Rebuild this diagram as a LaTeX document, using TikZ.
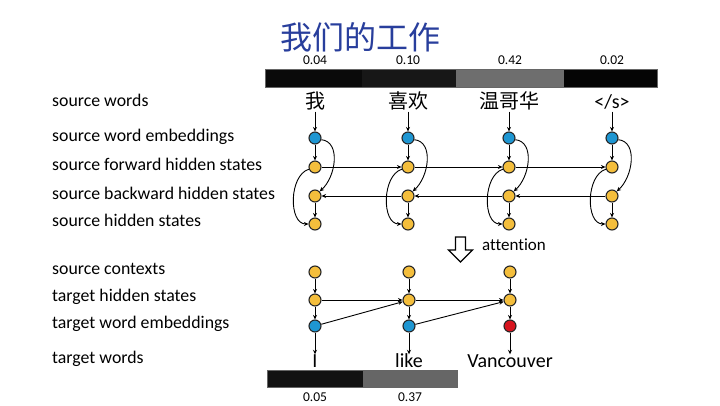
\documentclass[tikz,border=0pt]{standalone}
\usepackage{fontspec}
\setmainfont{Carlito}[Ligatures=NoCommon]
\newfontfamily\cjk{Noto Sans CJK SC}
\usetikzlibrary{arrows.meta}
\definecolor{ttlblue}{RGB}{40,62,156}
\definecolor{nodeyel}{RGB}{244,190,60}
\definecolor{nodeblue}{RGB}{30,150,210}
\definecolor{nodered}{RGB}{215,20,30}
\begin{document}
\begin{tikzpicture}[x=1pt,y=-1pt,
  st/.style={circle,draw=black!85,line width=1.1pt,minimum size=12pt,inner sep=0pt},
  yel/.style={st,fill=nodeyel},
  blu/.style={st,fill=nodeblue},
  redn/.style={st,fill=nodered},
  arr/.style={-{Stealth[length=4.5pt,width=4pt]},line width=0.9pt},
  lbl/.style={anchor=base west,font=\fontsize{17.8}{20}\selectfont,inner sep=0pt},
  num/.style={font=\fontsize{13.5}{15}\selectfont,inner sep=0pt},
  sw/.style={anchor=base,font=\fontsize{20}{24}\selectfont,text height=0.8em,text depth=0.25em,inner sep=1pt},
  tw/.style={anchor=base,font=\fontsize{20}{24}\selectfont,text height=0.7em,text depth=0.2em,inner sep=5.5pt}
]
\useasboundingbox (0,0) rectangle (720,405);

% title
\node[font=\cjk\fontsize{32}{36}\selectfont,text=ttlblue,inner sep=0pt] (title) at (360,37) {我们的工作};

% left labels
\node[lbl] (l1) at (52,106.5) {source words};
\node[lbl] (l2) at (52,141.5) {source word embeddings};
\node[lbl] (l3) at (52,170.5) {source forward hidden states};
\node[lbl] (l4) at (52,199.5) {source backward hidden states};
\node[lbl] (l5) at (52,226.5) {source hidden states};
\node[lbl] (l6) at (52,274.5) {source contexts};
\node[lbl] (l7) at (52,301.5) {target hidden states};
\node[lbl] (l8) at (52,328.5) {target word embeddings};
\node[lbl] (l9) at (52,363.5) {target words};

% top attention bar
\fill[black!96] (265,69) rectangle (362,87);
\fill[black!91] (362,69) rectangle (456,87);
\fill[black!57] (456,69) rectangle (564,87);
\fill[black!98] (564,69) rectangle (657,87);
\draw[black!60,line width=0.5pt] (265,69) rectangle (657,87);
\node[num] (n1) at (315,60) {0.04};
\node[num] (n2) at (408,60) {0.10};
\node[num] (n3) at (510,60) {0.42};
\node[num] (n4) at (612,60) {0.02};

% source words
\node[sw,font=\cjk\fontsize{20}{24}\selectfont] (w1) at (315,108) {我};
\node[sw,font=\cjk\fontsize{20}{24}\selectfont] (w2) at (408,108) {喜欢};
\node[sw,font=\cjk\fontsize{20}{24}\selectfont] (w3) at (509,108) {温哥华};
\node[sw] (w4) at (612,108) {</s>};

% source nodes
\foreach \i/\x in {1/315,2/408,3/509,4/612}{
  \node[blu] (b\i) at (\x,138) {};
  \node[yel] (f\i) at (\x,167) {};
  \node[yel] (k\i) at (\x,196) {};
  \node[yel] (h\i) at (\x,224) {};
}
\foreach \i in {1,...,4}{
  \draw[arr] (w\i) -- (b\i);
  \draw[arr] (b\i) -- (f\i);
  \draw[arr] (k\i) -- (h\i);
  \draw[arr] (b\i.-15) .. controls +(20,2) and +(16,-14) .. (k\i.45);
  \draw[arr] (f\i.200) .. controls +(-20,6) and +(-20,0) .. (h\i.west);
}
\foreach \i/\j in {1/2,2/3,3/4}{
  \draw[arr] (f\i) -- (f\j);
  \draw[arr] (k\j) -- (k\i);
}

% attention arrow
\draw[line width=1.3pt,fill=white,line join=miter]
  (455.5,237) -- (465.5,237) -- (465.5,250) -- (472.5,250) -- (460.5,262)
  -- (448.5,250) -- (455.5,250) -- cycle;
\node[anchor=base west,font=\fontsize{17}{20}\selectfont,inner sep=0pt] (att) at (482,250.5) {attention};

% target nodes
\foreach \i/\x in {1/315,2/409,3/510}{
  \node[yel] (c\i) at (\x,272) {};
  \node[yel] (t\i) at (\x,300) {};
}
\node[blu] (e1) at (315,326) {};
\node[blu] (e2) at (409,326) {};
\node[redn] (e3) at (510,326) {};

\node[tw] (tw1) at (315,367) {I};
\node[tw] (tw2) at (409,367) {like};
\node[tw] (tw3) at (510,367) {Vancouver};

\foreach \i in {1,2,3}{
  \draw[arr] (c\i) -- (t\i);
  \draw[arr] (t\i) -- (e\i);
  \draw[arr] (e\i) -- (tw\i);
}
\draw[arr] (t1) -- (t2);
\draw[arr] (t2) -- (t3);
\draw[arr] (e1) -- (t2);
\draw[arr] (e2) -- (t3);

% bottom attention bar
\fill[black!93] (267,370) rectangle (363,387);
\fill[black!60] (363,370) rectangle (457,387);
\draw[black!60,line width=0.5pt] (267,370) rectangle (457,387);
\node[num] (m1) at (315,397) {0.05};
\node[num] (m2) at (410,397) {0.37};
\end{tikzpicture}
\end{document}
